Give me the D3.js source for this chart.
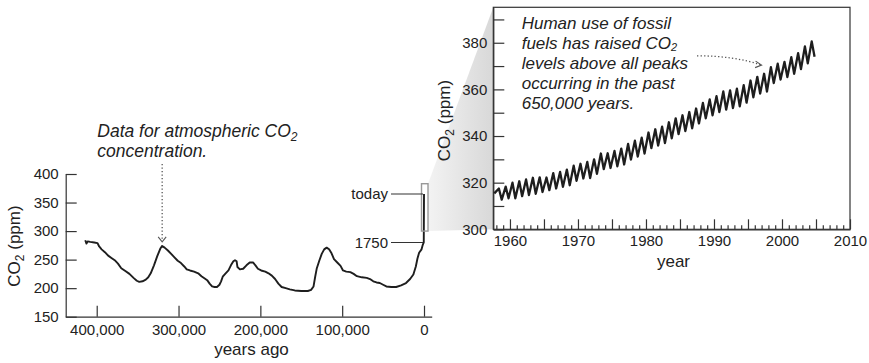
<!DOCTYPE html>
<html>
<head>
<meta charset="utf-8">
<script src="https://cdn.jsdelivr.net/npm/d3@7"></script>
<style>
  body { margin: 0; background: #fff; }
  svg { display: block; font-family: "Liberation Sans", Arial, Helvetica, sans-serif; }
  .axis path, .axis line { stroke: #333; stroke-width: 1.2; }
  .axis text { font-size: 15px; fill: #222; }
  .axislabel { font-size: 17px; fill: #222; }
  .note { font-size: 17px; font-style: italic; fill: #222; }
</style>
</head>
<body>
<div id="chart"></div>
<script>
// Ice core record (years before present, ppm)
const yearsAgo = [414000, 412500, 411000, 408000, 403000, 399000, 397000, 394000, 390000, 386000,
  382000, 378000, 374000, 370000, 365000, 360000, 355000, 351000, 348000, 344000,
  340000, 337000, 334000, 330000, 326000, 322000, 320000, 317000, 313000, 309000,
  305000, 301000, 297000, 293000, 290000, 286000, 281000, 276000, 272000, 268000,
  265000, 262000, 259000, 256000, 253000, 250000, 248000, 246000, 243000, 239000,
  236000, 233000, 231000, 229000, 228000, 225000, 221000, 217000, 213000, 209000,
  206000, 203000, 199000, 194000, 190000, 186000, 182000, 178000, 174000, 169000,
  164000, 158000, 150000, 142000, 138000, 135000, 133000, 131000, 128000, 125000,
  122000, 119000, 116000, 113000, 110000, 106000, 102000, 99000, 95000, 90000,
  86000, 82000, 76000, 70000, 66000, 62000, 58000, 54000, 50000, 46000,
  40000, 34000, 28000, 22000, 17000, 13000, 10000, 8000, 6000, 3000,
  1500, 300, 0];
const iceCO2 = [284, 278, 282, 281, 280, 279, 273, 268, 263, 257,
  253, 249, 243, 235, 230, 225, 218, 213, 211, 212,
  215, 219, 226, 240, 256, 270, 274, 271, 266, 260,
  254, 248, 244, 238, 233, 231, 229, 226, 221, 217,
  214, 208, 203, 202, 202, 206, 212, 220, 225, 231,
  240, 247, 249, 247, 237, 233, 234, 240, 245, 245,
  240, 234, 231, 229, 226, 222, 216, 208, 202, 200,
  198, 196, 195, 195, 197, 203, 220, 235, 248, 260,
  268, 271, 268, 261, 251, 245, 239, 231, 229, 228,
  225, 221, 219, 218, 216, 212, 210, 209, 206, 203,
  202, 202, 205, 209, 216, 224, 238, 252, 262, 268,
  276, 280, 365];

// Mauna Loa record: seasonal high (May) and low (Oct) for each year
const mloYears = [1958, 1959, 1960, 1961, 1962, 1963, 1964, 1965, 1966, 1967,
  1968, 1969, 1970, 1971, 1972, 1973, 1974, 1975, 1976, 1977,
  1978, 1979, 1980, 1981, 1982, 1983, 1984, 1985, 1986, 1987,
  1988, 1989, 1990, 1991, 1992, 1993, 1994, 1995, 1996, 1997,
  1998, 1999, 2000, 2001, 2002, 2003, 2004];
const mloHigh = [317.5, 318.3, 320.0, 320.6, 321.4, 322.1, 322.3, 322.2, 324.1, 324.6,
  325.6, 327.3, 328.1, 328.9, 330.0, 332.5, 332.6, 333.6, 334.6, 336.6,
  338.0, 339.3, 341.5, 342.9, 344.0, 345.9, 347.6, 348.9, 350.3, 351.8,
  354.2, 355.7, 357.1, 359.1, 359.6, 360.3, 361.8, 363.8, 365.4, 366.7,
  369.5, 371.0, 371.8, 373.8, 375.5, 378.4, 380.6];
const mloLow = [312.7, 313.3, 313.3, 314.2, 314.7, 315.2, 316.0, 316.8, 317.5, 318.2,
  318.9, 320.8, 321.8, 322.0, 323.8, 325.8, 326.3, 327.0, 327.8, 329.9,
  331.2, 332.5, 334.8, 335.9, 337.0, 339.0, 340.8, 342.1, 343.3, 345.4,
  347.6, 348.9, 350.3, 351.3, 352.0, 352.7, 354.3, 356.6, 358.2, 359.1,
  362.7, 364.2, 365.3, 366.7, 368.7, 371.2, 374.0];
const mloStart = [1957.7, 315.4];

const leftXTicks = [400000, 300000, 200000, 100000, 0];
const leftYTicks = [150, 200, 250, 300, 350, 400];
const rightYTicks = [300, 320, 340, 360, 380];
const rightYMinor = [310, 330, 350, 370, 390];
const rightXTicks = [1960, 1970, 1980, 1990, 2000, 2010];
const rightXMid = [1965, 1975, 1985, 1995, 2005];

const width = 869, height = 363;
const svg = d3.select("#chart").append("svg")
    .attr("width", width)
    .attr("height", height);

// scales
const xL = d3.scaleLinear().domain([437900, -9400]).range([65.7, 431.7]);
const yL = d3.scaleLinear().domain([150, 400]).range([316.7, 174]);
const xR = d3.scaleLinear().domain([1957.55, 2010]).range([493.3, 850]);
const yR = d3.scaleLinear().domain([300, 395.2]).range([229.3, 7.3]);

// zoom connector
const grad = svg.append("defs").append("linearGradient")
    .attr("id", "fade")
    .attr("x1", "0%").attr("x2", "100%");
grad.append("stop").attr("offset", "0%").attr("stop-color", "#f3f3f3");
grad.append("stop").attr("offset", "100%").attr("stop-color", "#d8d8d8");

const boxL = xL(0) - 2.5, boxR = xL(0) + 4;
svg.append("path")
    .attr("d", `M${boxR},${yL(383)} L${xR.range()[0]},${yR.range()[1]} L${xR.range()[0]},${yR(300)} L${boxR},${yL(300)} Z`)
    .attr("fill", "url(#fade)");

// ---- left chart ----
svg.append("g")
    .attr("class", "axis")
    .attr("transform", `translate(0,${yL.range()[0]})`)
    .call(d3.axisBottom(xL).tickValues(leftXTicks).tickFormat(d3.format(","))
        .tickSizeInner(-11).tickSizeOuter(0).tickPadding(7.7));

svg.append("g")
    .attr("class", "axis")
    .attr("transform", `translate(${xL.range()[0]},0)`)
    .call(d3.axisLeft(yL).tickValues(leftYTicks)
        .tickSizeInner(-11).tickSizeOuter(0).tickPadding(7));

const iceData = yearsAgo.map((d, i) => [d, iceCO2[i]]);
svg.append("path")
    .datum(iceData)
    .attr("fill", "none")
    .attr("stroke", "#1e1e1e")
    .attr("stroke-width", 1.9)
    .attr("stroke-linejoin", "round")
    .attr("d", d3.line().x(d => xL(d[0])).y(d => yL(d[1])));

svg.append("rect")
    .attr("x", boxL)
    .attr("y", yL(383))
    .attr("width", boxR - boxL)
    .attr("height", yL(300) - yL(383))
    .attr("fill", "none")
    .attr("stroke", "#999")
    .attr("stroke-width", 1.4);

// today / 1750 pointers
[[365, "today"], [280, "1750"]].forEach(([v, label]) => {
    svg.append("line")
        .attr("x1", 391).attr("x2", xL(0) - 1)
        .attr("y1", yL(v)).attr("y2", yL(v))
        .attr("stroke", "#333").attr("stroke-width", 1.1);
    svg.append("text")
        .attr("x", 388).attr("y", yL(v))
        .attr("dy", "0.36em")
        .attr("text-anchor", "end")
        .style("font-size", "15px").style("fill", "#222")
        .text(label);
});

svg.append("text")
    .attr("class", "axislabel")
    .attr("x", 251.5).attr("y", 355)
    .attr("text-anchor", "middle")
    .text("years ago");

function co2Label(x, y) {
    const t = svg.append("text")
        .attr("class", "axislabel")
        .attr("transform", `translate(${x},${y}) rotate(-90)`)
        .attr("text-anchor", "middle")
        .attr("dy", "0.36em");
    t.append("tspan").text("CO");
    t.append("tspan").attr("font-size", "12px").attr("dy", 4).text("2");
    t.append("tspan").attr("dy", -4).text(" (ppm)");
}
co2Label(13.5, 246);
co2Label(444, 120.5);

// left annotation
const n1 = svg.append("text").attr("class", "note").attr("x", 97.3).attr("y", 137)
    .style("font-size", "17.5px");
n1.append("tspan").text("Data for atmospheric CO");
n1.append("tspan").attr("font-size", "12px").attr("dy", 4).text("2");
svg.append("text").attr("class", "note").attr("x", 97.3).attr("y", 157)
    .style("font-size", "17.5px").text("concentration.");

const ax = xL(320000), ay = yL(281);
svg.append("line")
    .attr("x1", ax).attr("x2", ax)
    .attr("y1", 164).attr("y2", ay - 1)
    .attr("stroke", "#555").attr("stroke-width", 1.3)
    .attr("stroke-dasharray", "1.3,2.2");
svg.append("path")
    .attr("d", `M${ax - 4},${ay - 5} L${ax},${ay} L${ax + 4},${ay - 5}`)
    .attr("fill", "none").attr("stroke", "#555").attr("stroke-width", 1.1);

// ---- right chart ----
svg.append("rect")
    .attr("x", xR.range()[0]).attr("y", yR.range()[1])
    .attr("width", xR.range()[1] - xR.range()[0])
    .attr("height", yR.range()[0] - yR.range()[1])
    .attr("fill", "none").attr("stroke", "#333").attr("stroke-width", 1.2);

svg.append("g")
    .attr("class", "axis")
    .attr("transform", `translate(${xR.range()[0]},0)`)
    .call(d3.axisLeft(yR).tickValues(rightYTicks)
        .tickSizeInner(-11).tickSizeOuter(0).tickPadding(6));

svg.append("g")
    .attr("class", "axis")
    .attr("transform", `translate(${xR.range()[0]},0)`)
    .call(d3.axisLeft(yR).tickValues(rightYMinor).tickFormat("")
        .tickSizeInner(-11).tickSizeOuter(0))
    .select(".domain").remove();

svg.append("g")
    .attr("class", "axis")
    .attr("transform", `translate(0,${yR.range()[0]})`)
    .call(d3.axisBottom(xR).tickValues(rightXTicks).tickFormat(d3.format("d"))
        .tickSizeInner(-10).tickSizeOuter(0).tickPadding(6.5));

svg.append("g")
    .attr("class", "axis")
    .attr("transform", `translate(0,${yR.range()[0]})`)
    .call(d3.axisBottom(xR).tickValues(rightXMid).tickFormat("")
        .tickSizeInner(-10).tickSizeOuter(0))
    .select(".domain").remove();

svg.append("g")
    .attr("class", "axis")
    .attr("transform", `translate(0,${yR.range()[0]})`)
    .call(d3.axisBottom(xR).tickValues(d3.range(1958, 2010).filter(y => y % 5))
        .tickFormat("").tickSizeInner(-4).tickSizeOuter(0))
    .select(".domain").remove();

const mloData = [mloStart];
mloYears.forEach((y, i) => {
    mloData.push([y + 0.37, mloHigh[i]]);
    mloData.push([y + 0.79, mloLow[i]]);
});
svg.append("path")
    .datum(mloData)
    .attr("fill", "none")
    .attr("stroke", "#1e1e1e")
    .attr("stroke-width", 2.3)
    .attr("stroke-linejoin", "round")
    .attr("d", d3.line().x(d => xR(d[0])).y(d => yR(d[1])));

svg.append("text")
    .attr("class", "axislabel")
    .attr("x", 673.5).attr("y", 267)
    .attr("text-anchor", "middle")
    .text("year");

// right annotation
const noteLines = ["Human use of fossil", "fuels has raised CO", "levels above all peaks",
    "occurring in the past", "650,000 years."];
noteLines.forEach((s, i) => {
    const t = svg.append("text").attr("class", "note")
        .attr("x", 521.7).attr("y", 28.5 + i * 20);
    t.append("tspan").text(s);
    if (i === 1) t.append("tspan").attr("font-size", "11px").attr("dy", 2.2).text("2");
});

const sx = xR(1987.5), sy = yR(374.4), ex = xR(1997), ey = yR(370.4);
svg.append("path")
    .attr("d", `M${sx},${sy} Q${(sx + ex) / 2 + 5},${sy} ${ex},${ey}`)
    .attr("fill", "none").attr("stroke", "#555").attr("stroke-width", 1.3)
    .attr("stroke-dasharray", "1.3,2.2");
svg.append("path")
    .attr("d", `M${ex - 6},${ey - 4} L${ex},${ey} L${ex - 6.5},${ey + 2.5}`)
    .attr("fill", "none").attr("stroke", "#555").attr("stroke-width", 1.1);
</script>
</body>
</html>
